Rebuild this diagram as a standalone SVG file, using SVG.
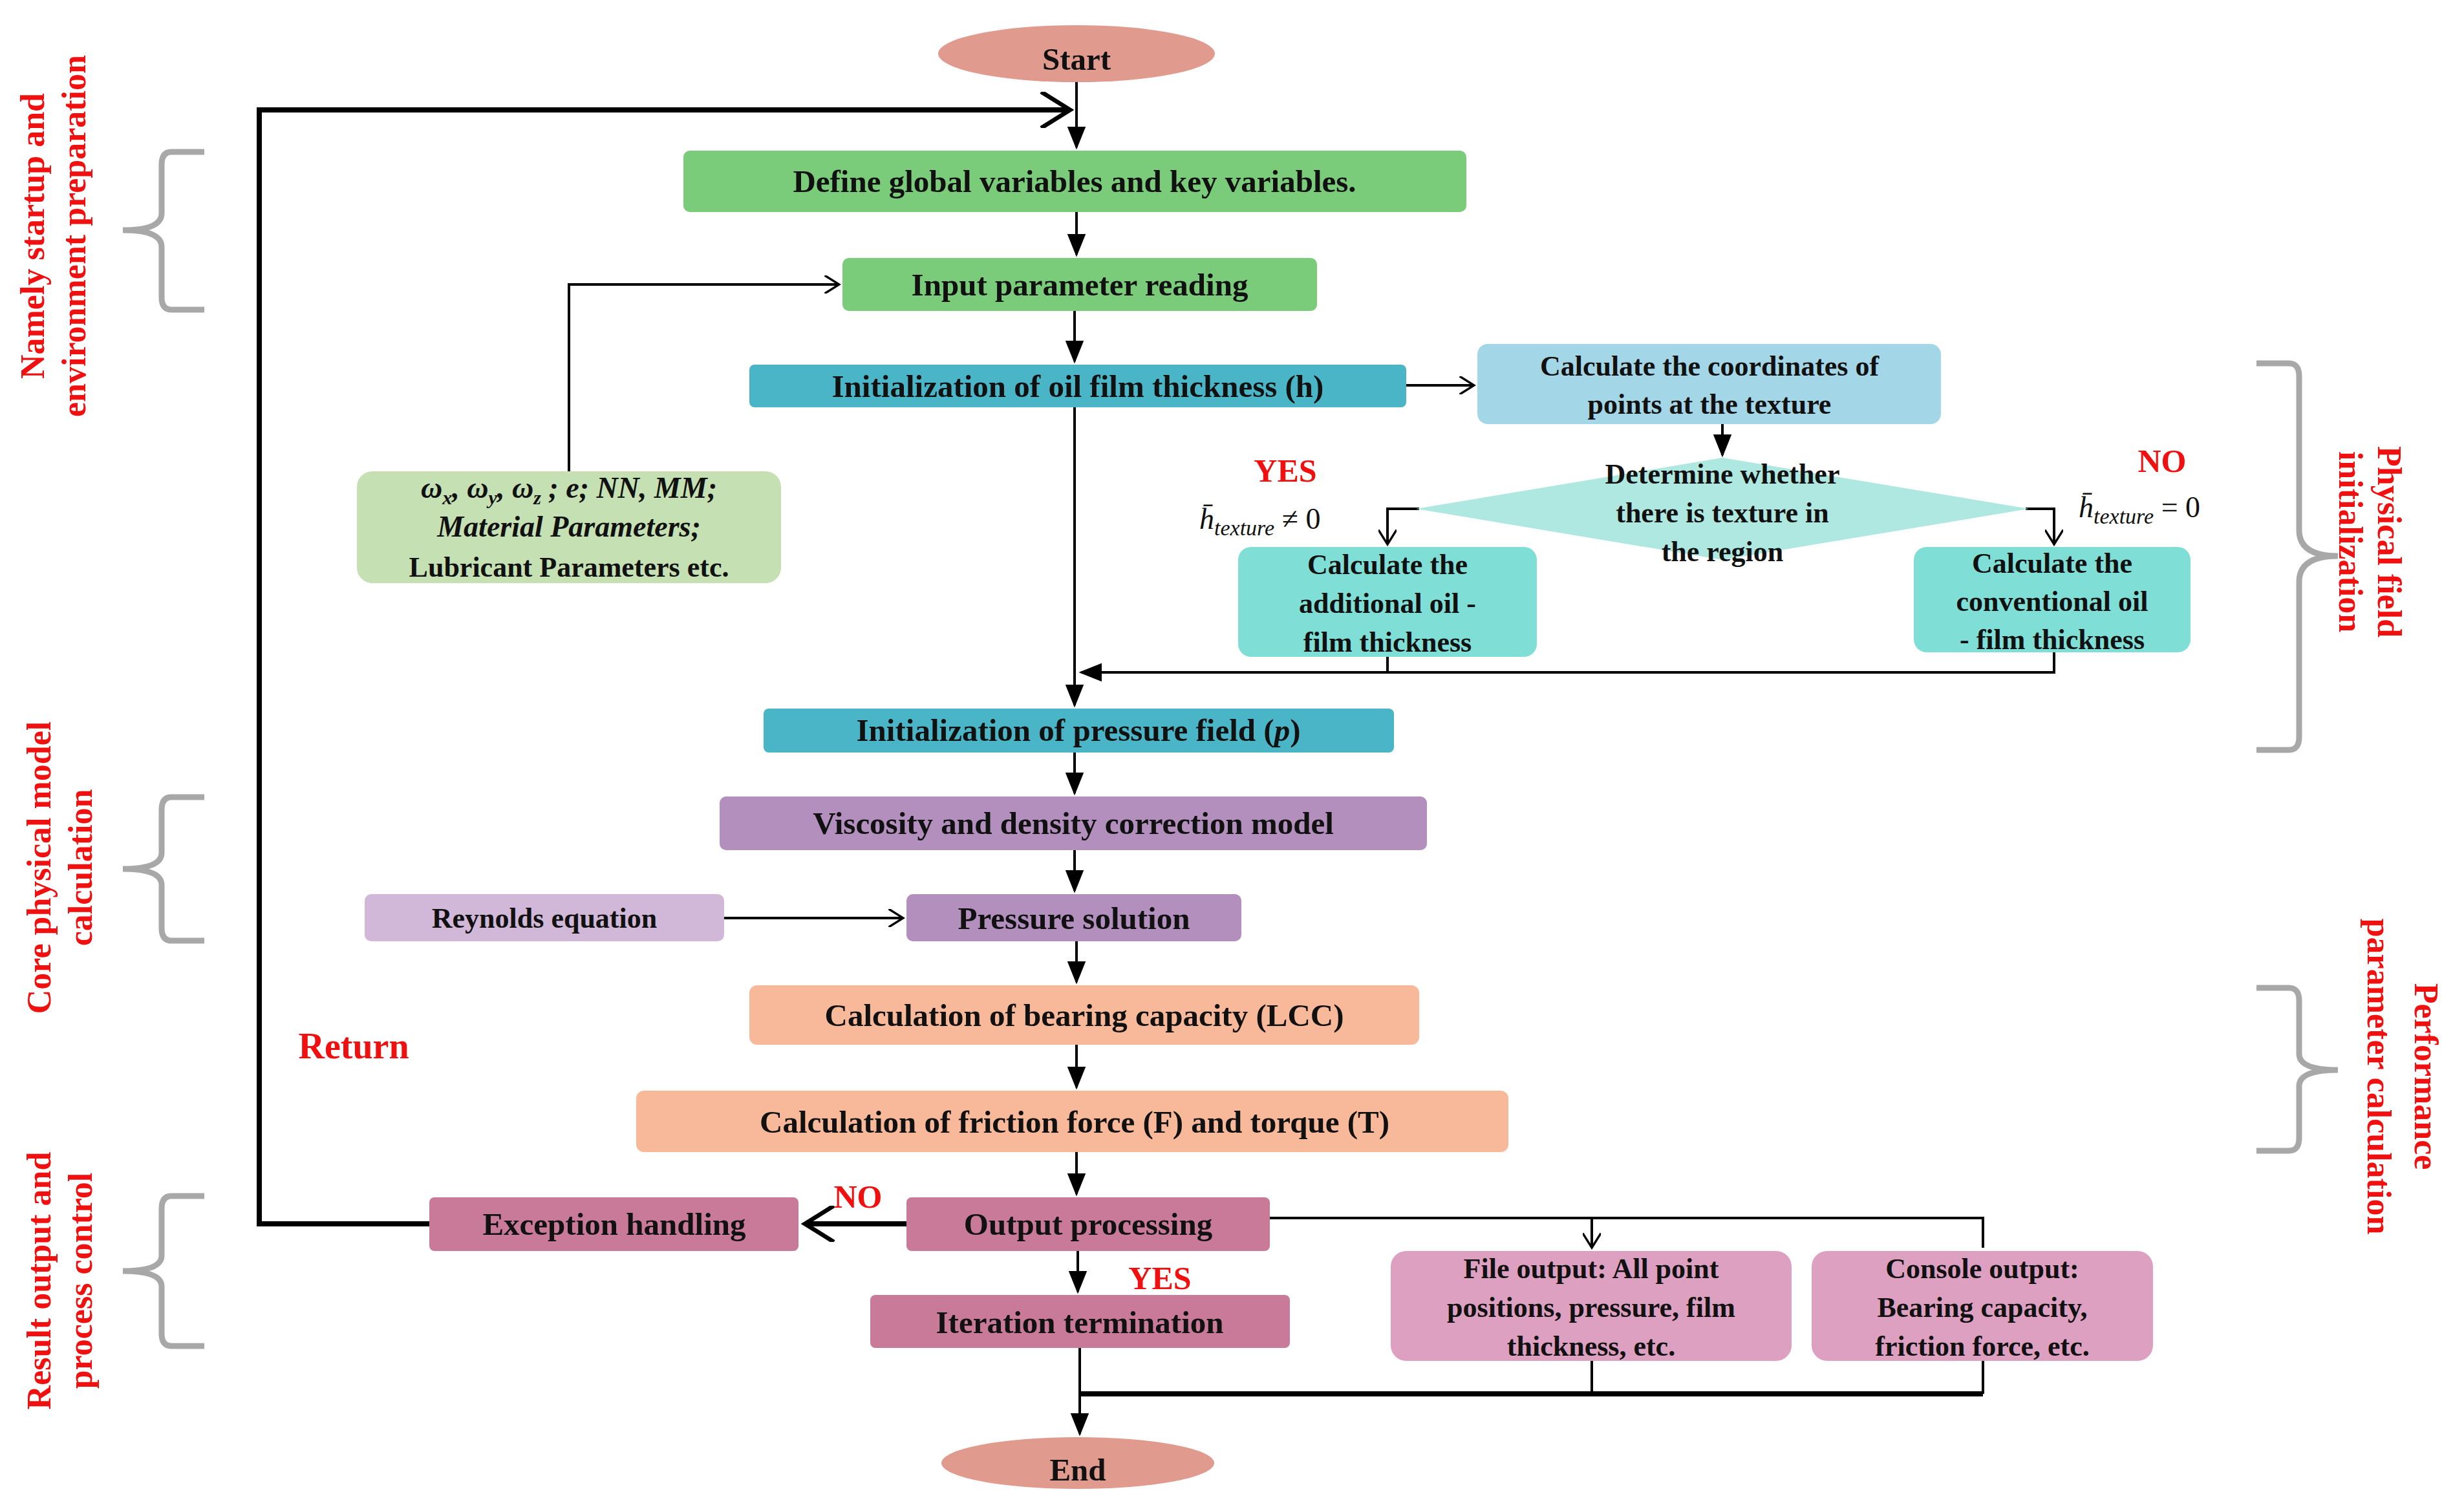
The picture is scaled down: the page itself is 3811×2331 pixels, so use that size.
<svg xmlns="http://www.w3.org/2000/svg" width="3811" height="2331" viewBox="0 0 3811 2331">
<style>
.t{font-family:"Liberation Serif",serif;font-weight:bold;font-size:49px;fill:#111;text-anchor:middle}
.s{font-size:44px}
.r{font-family:"Liberation Serif",serif;font-weight:bold;fill:#f01010;text-anchor:middle}
.c{fill:none;stroke:#000;stroke-width:4}
.k{fill:none;stroke:#000;stroke-width:8}
.b{fill:none;stroke:#a8a8a8;stroke-width:9}
.m{font-family:"Liberation Serif",serif;font-style:italic;font-size:46px;fill:#111}
</style>
<defs>
<marker id="a" viewBox="0 0 10 10" refX="9" refY="5" markerWidth="6" markerHeight="6" markerUnits="userSpaceOnUse" orient="auto"><path d="M0,0L10,5L0,10z" fill="#000" transform="scale(1)"/></marker>
<marker id="A" viewBox="0 0 10 10" refX="9" refY="5" markerWidth="9" markerHeight="9" orient="auto"><path d="M0,1L10,5L0,9z" fill="#000"/></marker>
<marker id="o" viewBox="0 0 10 10" refX="9" refY="5" markerWidth="7" markerHeight="7" orient="auto"><path d="M1,0L9,5L1,10" fill="none" stroke="#000" stroke-width="1.2"/></marker>
</defs>
<rect width="3811" height="2331" fill="#fff"/>

<g id="conn">
<path class="k" d="M1235,1893H401V170H1655" marker-end="url(#o)"/>
<path class="c" d="M1665,127V228" marker-end="url(#A)"/>
<path class="c" d="M1665,328V394" marker-end="url(#A)"/>
<path class="c" d="M1662,481V559" marker-end="url(#A)"/>
<path class="c" d="M1662,630V1091" marker-end="url(#A)" stroke-width="6"/>
<path class="c" d="M2175,596H2280" marker-end="url(#o)"/>
<path class="c" d="M2664,656V704" marker-end="url(#A)"/>
<path class="c" d="M2195,787H2146V842" marker-end="url(#o)"/>
<path class="c" d="M3133,787H3177V842" marker-end="url(#o)"/>
<path class="c" d="M2146,1016V1040M3177,1009V1040H1672" marker-end="url(#A)"/>
<path class="c" d="M880,729V440H1298" marker-end="url(#o)"/>
<path class="c" d="M1662,1164V1227" marker-end="url(#A)"/>
<path class="c" d="M1662,1315V1378" marker-end="url(#A)"/>
<path class="c" d="M1120,1420H1397" marker-end="url(#o)"/>
<path class="c" d="M1665,1456V1519" marker-end="url(#A)"/>
<path class="c" d="M1665,1616V1682" marker-end="url(#A)"/>
<path class="c" d="M1665,1782V1847" marker-end="url(#A)"/>
<path class="k" d="M1402,1893H1245" marker-end="url(#o)"/>
<path class="c" d="M1667,1935V1998" marker-end="url(#A)"/>
<path class="c" d="M1964,1884H3067V1930M2462,1884V1930" marker-end="url(#o)"/>
<path class="c" d="M1670,2085V2218" marker-end="url(#A)"/>
<path class="k" d="M1670,2156H3067"/>
<path class="c" d="M2462,2105V2156M3067,2105V2156"/>
</g>

<g id="start"><ellipse cx="1665" cy="83" rx="214" ry="44" fill="#e09a8e"/><text class="t" x="1665" y="108" font-size="76">Start</text></g>
<g id="define"><rect x="1057" y="233" width="1211" height="95" rx="10" fill="#7acb7a"/><text class="t" x="1662" y="297">Define global variables and key variables.</text></g>
<g id="input"><rect x="1303" y="399" width="734" height="82" rx="10" fill="#7acb7a"/><text class="t" x="1670" y="457">Input parameter reading</text></g>
<g id="initoil"><rect x="1159" y="564" width="1016" height="66" rx="8" fill="#4bb5c8"/><text class="t" x="1667" y="614">Initialization of oil film thickness (h)</text></g>
<g id="coord"><rect x="2285" y="532" width="717" height="124" rx="16" fill="#a3d6e6"/><text class="t s" x="2644" y="581">Calculate the coordinates of</text><text class="t s" x="2644" y="640">points at the texture</text></g>
<g id="diamond"><path d="M2664,708L3138,787L2664,866L2190,787z" fill="#aee8e0"/><text class="t s" x="2664" y="748">Determine whether</text><text class="t s" x="2664" y="808">there is texture in</text><text class="t s" x="2664" y="868">the region</text></g>
<g id="addl"><rect x="1915" y="846" width="462" height="170" rx="20" fill="#7fdfd6"/><text class="t s" x="2146" y="888">Calculate the</text><text class="t s" x="2146" y="948">additional oil -</text><text class="t s" x="2146" y="1008">film thickness</text></g>
<g id="conv"><rect x="2960" y="846" width="428" height="163" rx="20" fill="#7fdfd6"/><text class="t s" x="3174" y="886">Calculate the</text><text class="t s" x="3174" y="945">conventional oil</text><text class="t s" x="3174" y="1004">- film thickness</text></g>
<g id="params"><rect x="552" y="729" width="656" height="173" rx="24" fill="#c5e0b3"/>
<text class="m" x="880" y="770" text-anchor="middle" font-weight="bold">ω<tspan font-size="30" dy="10">x</tspan><tspan dy="-10">, ω</tspan><tspan font-size="30" dy="10">y</tspan><tspan dy="-10">, ω</tspan><tspan font-size="30" dy="10">z</tspan><tspan dy="-10"> ; e; NN, MM;</tspan></text>
<text class="m" x="880" y="830" text-anchor="middle" font-weight="bold">Material Parameters;</text>
<text class="t s" x="880" y="892">Lubricant Parameters etc.</text></g>
<g id="pfield"><rect x="1181" y="1096" width="975" height="68" rx="8" fill="#4bb5c8"/><text class="t" x="1668" y="1146">Initialization of pressure field (<tspan font-style="italic">p</tspan>)</text></g>
<g id="visc"><rect x="1113" y="1232" width="1094" height="83" rx="10" fill="#b28fbd"/><text class="t" x="1660" y="1290">Viscosity and density correction model</text></g>
<g id="reyn"><rect x="564" y="1383" width="556" height="73" rx="10" fill="#d2b8d8"/><text class="t s" x="842" y="1435">Reynolds equation</text></g>
<g id="psol"><rect x="1402" y="1383" width="518" height="73" rx="10" fill="#b28fbd"/><text class="t" x="1661" y="1437">Pressure solution</text></g>
<g id="lcc"><rect x="1159" y="1524" width="1036" height="92" rx="12" fill="#f8b99a"/><text class="t" x="1677" y="1587">Calculation of bearing capacity (LCC)</text></g>
<g id="fric"><rect x="984" y="1687" width="1349" height="95" rx="12" fill="#f8b99a"/><text class="t" x="1662" y="1752">Calculation of friction force (F) and torque (T)</text></g>
<g id="outp"><rect x="1402" y="1852" width="562" height="83" rx="8" fill="#c87a98"/><text class="t" x="1683" y="1910">Output processing</text></g>
<g id="exc"><rect x="664" y="1852" width="571" height="83" rx="8" fill="#c87a98"/><text class="t" x="950" y="1910">Exception handling</text></g>
<g id="iter"><rect x="1346" y="2003" width="649" height="82" rx="8" fill="#c87a98"/><text class="t" x="1670" y="2062">Iteration termination</text></g>
<g id="fileo"><rect x="2151" y="1935" width="620" height="170" rx="24" fill="#dea0c1"/><text class="t s" x="2461" y="1977">File output: All point</text><text class="t s" x="2461" y="2037">positions, pressure, film</text><text class="t s" x="2461" y="2097">thickness, etc.</text></g>
<g id="cons"><rect x="2802" y="1935" width="528" height="170" rx="24" fill="#dea0c1"/><text class="t s" x="3066" y="1977">Console output:</text><text class="t s" x="3066" y="2037">Bearing capacity,</text><text class="t s" x="3066" y="2097">friction force, etc.</text></g>
<g id="end"><ellipse cx="1667" cy="2263" rx="211" ry="40" fill="#e09a8e"/><text class="t" x="1667" y="2290" font-size="76">End</text></g>

<g id="labels">
<text class="r" x="1988" y="745" font-size="50">YES</text>
<text class="r" x="3344" y="730" font-size="50">NO</text>
<text class="r" x="1327" y="1868" font-size="50">NO</text>
<text class="r" x="1794" y="1994" font-size="50">YES</text>
<text class="r" x="547" y="1637" font-size="56">Return</text>
<text class="m" x="1855" y="818" font-size="48">h̄<tspan font-size="34" dy="10">texture</tspan><tspan dy="-10" font-style="normal"> ≠ 0</tspan></text>
<text class="m" x="3215" y="800" font-size="48">h̄<tspan font-size="34" dy="10">texture</tspan><tspan dy="-10" font-style="normal"> = 0</tspan></text>
<text class="r" font-size="52" transform="translate(68,365) rotate(-90)">Namely startup and</text>
<text class="r" font-size="52" transform="translate(132,365) rotate(-90)">environment preparation</text>
<text class="r" font-size="52" transform="translate(78,1342) rotate(-90)">Core physical model</text>
<text class="r" font-size="52" transform="translate(142,1342) rotate(-90)">calculation</text>
<text class="r" font-size="52" transform="translate(78,1981) rotate(-90)">Result output and</text>
<text class="r" font-size="52" transform="translate(142,1981) rotate(-90)">process control</text>
<text class="r" font-size="52" transform="translate(3678,838) rotate(90)">Physical field</text>
<text class="r" font-size="52" transform="translate(3618,838) rotate(90)">initialization</text>
<text class="r" font-size="52" transform="translate(3735,1665) rotate(90)">Performance</text>
<text class="r" font-size="52" transform="translate(3662,1665) rotate(90)">parameter calculation</text>
</g>
<g id="braces">
<path class="b" d="M316,235H265Q250,235 250,255V330Q250,356 190,356Q250,356 250,382V460Q250,479 265,479H316"/>
<path class="b" d="M316,1233H265Q250,1233 250,1253V1319Q250,1344 190,1344Q250,1344 250,1369V1435Q250,1455 265,1455H316"/>
<path class="b" d="M316,1850H265Q250,1850 250,1870V1942Q250,1966 190,1966Q250,1966 250,1990V2063Q250,2082 265,2082H316"/>
<path class="b" d="M3490,562H3540Q3556,562 3556,582V820Q3556,860 3616,860Q3556,860 3556,900V1140Q3556,1160 3540,1160H3490"/>
<path class="b" d="M3490,1528H3540Q3556,1528 3556,1548V1630Q3556,1655 3616,1655Q3556,1655 3556,1680V1760Q3556,1780 3540,1780H3490"/>
</g>
</svg>
